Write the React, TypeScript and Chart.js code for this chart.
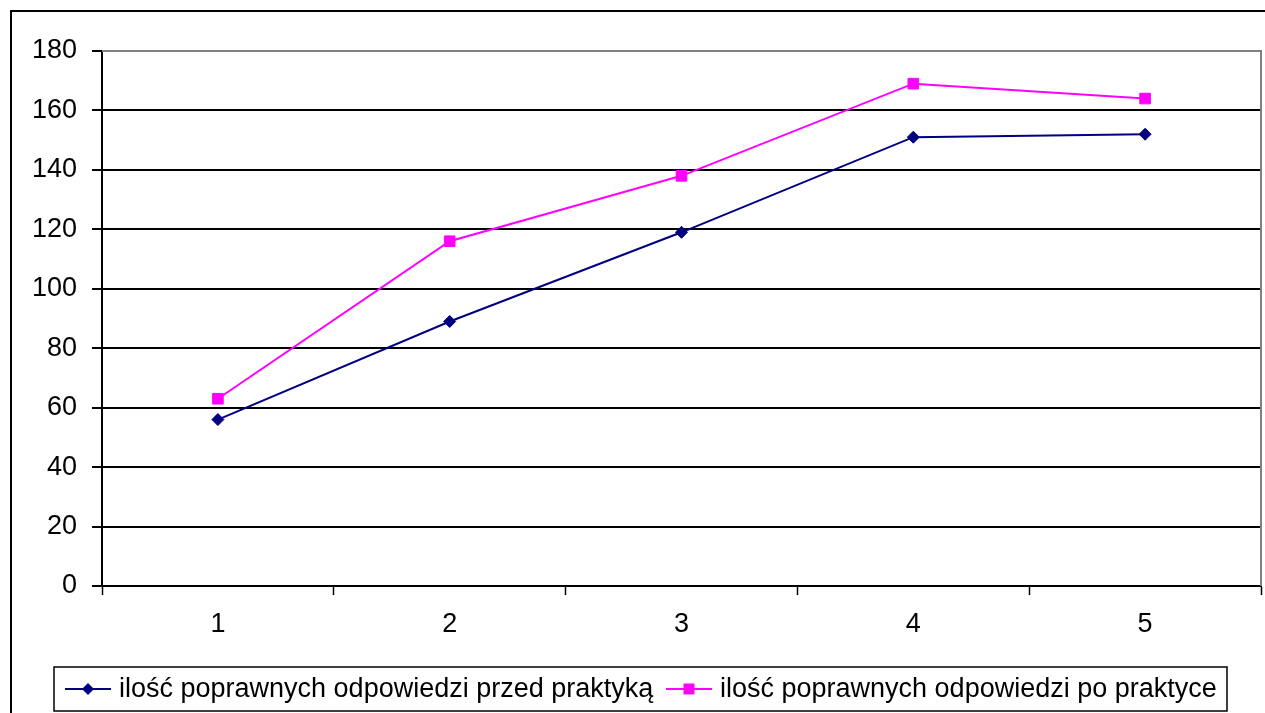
import React, { useEffect, useRef } from "react";
import { Chart, registerables } from "chart.js";

Chart.register(...registerables);

const categories = ["1", "2", "3", "4", "5"];
const seriesBefore = [56, 89, 119, 151, 152];
const seriesAfter = [63, 116, 138, 169, 164];
const seriesNames = [
  "ilość poprawnych odpowiedzi przed praktyką",
  "ilość poprawnych odpowiedzi po praktyce",
];
const yTicks = [0, 20, 40, 60, 80, 100, 120, 140, 160, 180];

const FONT = "'Liberation Sans', Arial, sans-serif";

const framePlugin = {
  id: "frame",
  beforeDraw(chart: any) {
    const ctx = chart.ctx;
    ctx.save();
    ctx.fillStyle = "#ffffff";
    ctx.fillRect(0, 0, chart.width, chart.height);
    ctx.strokeStyle = "#000000";
    ctx.lineWidth = 2;
    ctx.strokeRect(11, 11, chart.width + 20, chart.height + 20);
    ctx.restore();
  },
  beforeDatasetsDraw(chart: any) {
    const { ctx, chartArea } = chart;
    ctx.save();
    ctx.strokeStyle = "#808080";
    ctx.lineWidth = 2;
    ctx.beginPath();
    ctx.moveTo(chartArea.left, chartArea.top);
    ctx.lineTo(chartArea.right, chartArea.top);
    ctx.lineTo(chartArea.right, chartArea.bottom);
    ctx.stroke();
    ctx.restore();
  },
  afterDraw(chart: any) {
    const ctx = chart.ctx;
    ctx.save();
    const boxL = 54, boxT = 667, boxR = 1227, boxB = 711;
    ctx.strokeStyle = "#000000";
    ctx.lineWidth = 1.5;
    ctx.strokeRect(boxL, boxT, boxR - boxL, boxB - boxT);
    const midY = (boxT + boxB) / 2;
    const items = [
      { lineX: 65, textX: 119 },
      { lineX: 666, textX: 720 },
    ];
    ctx.font = `27px ${FONT}`;
    ctx.textBaseline = "middle";
    ctx.textAlign = "left";
    chart.data.datasets.forEach((ds: any, i: number) => {
      const it = items[i];
      ctx.strokeStyle = ds.borderColor;
      ctx.lineWidth = 2;
      ctx.beginPath();
      ctx.moveTo(it.lineX, midY);
      ctx.lineTo(it.lineX + 46, midY);
      ctx.stroke();
      ctx.fillStyle = ds.pointBackgroundColor;
      const cx = it.lineX + 23;
      if (ds.pointStyle === "rectRot") {
        ctx.beginPath();
        ctx.moveTo(cx, midY - 6);
        ctx.lineTo(cx + 6, midY);
        ctx.lineTo(cx, midY + 6);
        ctx.lineTo(cx - 6, midY);
        ctx.closePath();
        ctx.fill();
      } else {
        ctx.fillRect(cx - 5.5, midY - 5.5, 11, 11);
      }
      ctx.fillStyle = "#000000";
      ctx.fillText(ds.label, it.textX, midY + 1);
    });
    ctx.restore();
  },
};

export default function App() {
  const ref = useRef<HTMLCanvasElement | null>(null);
  useEffect(() => {
    if (!ref.current) return;
    const chart = new Chart(ref.current, {
      type: "line",
      data: {
        labels: categories,
        datasets: [
          {
            label: seriesNames[0],
            data: seriesBefore,
            borderColor: "#000080",
            backgroundColor: "#000080",
            pointBackgroundColor: "#000080",
            pointBorderColor: "#000080",
            pointStyle: "rectRot",
            pointRadius: 6,
            pointBorderWidth: 1,
            borderWidth: 2,
            tension: 0,
          },
          {
            label: seriesNames[1],
            data: seriesAfter,
            borderColor: "#FF00FF",
            backgroundColor: "#FF00FF",
            pointBackgroundColor: "#FF00FF",
            pointBorderColor: "#FF00FF",
            pointStyle: "rect",
            pointRadius: 7.5,
            pointBorderWidth: 1,
            borderWidth: 2,
            tension: 0,
          },
        ],
      },
      options: {
        animation: false,
        responsive: false,
        maintainAspectRatio: false,
        layout: { autoPadding: false, padding: { top: 51, left: 0, right: 4, bottom: 67 } },
        plugins: { legend: { display: false }, tooltip: { enabled: false } },
        scales: {
          x: {
            type: "category",
            offset: true,
            grid: {
              offset: true,
              drawOnChartArea: false,
              drawTicks: true,
              tickLength: 9,
              tickWidth: 1.5,
              tickColor: "#000000",
            },
            border: { display: true, color: "#000000", width: 2 },
            ticks: {
              color: "#000000",
              font: { family: FONT, size: 27 },
              padding: 13,
              maxRotation: 0,
            },
            afterFit: (axis: any) => {
              axis.height = 60;
              axis.paddingLeft = 0;
              axis.paddingRight = 0;
            },
          },
          y: {
            min: 0,
            max: 180,
            afterBuildTicks: (axis: any) => {
              axis.ticks = yTicks.map((v) => ({ value: v }));
            },
            grid: {
              color: (c: any) => (c.tick && c.tick.value === 180 ? "rgba(0,0,0,0)" : "#000000"),
              lineWidth: 2,
              drawTicks: true,
              tickLength: 10,
              tickColor: "#000000",
            },
            border: { display: true, color: "#000000", width: 2 },
            ticks: {
              color: "#000000",
              font: { family: FONT, size: 27 },
              padding: 15,
            },
            afterFit: (axis: any) => {
              axis.width = 102;
            },
          },
        },
      },
      plugins: [framePlugin],
    });
    return () => chart.destroy();
  }, []);
  return (
    <div style={{ position: "fixed", left: 0, top: 0, width: 1265, height: 713 }}>
      <canvas ref={ref} width={1265} height={713} style={{ display: "block" }} />
    </div>
  );
}
